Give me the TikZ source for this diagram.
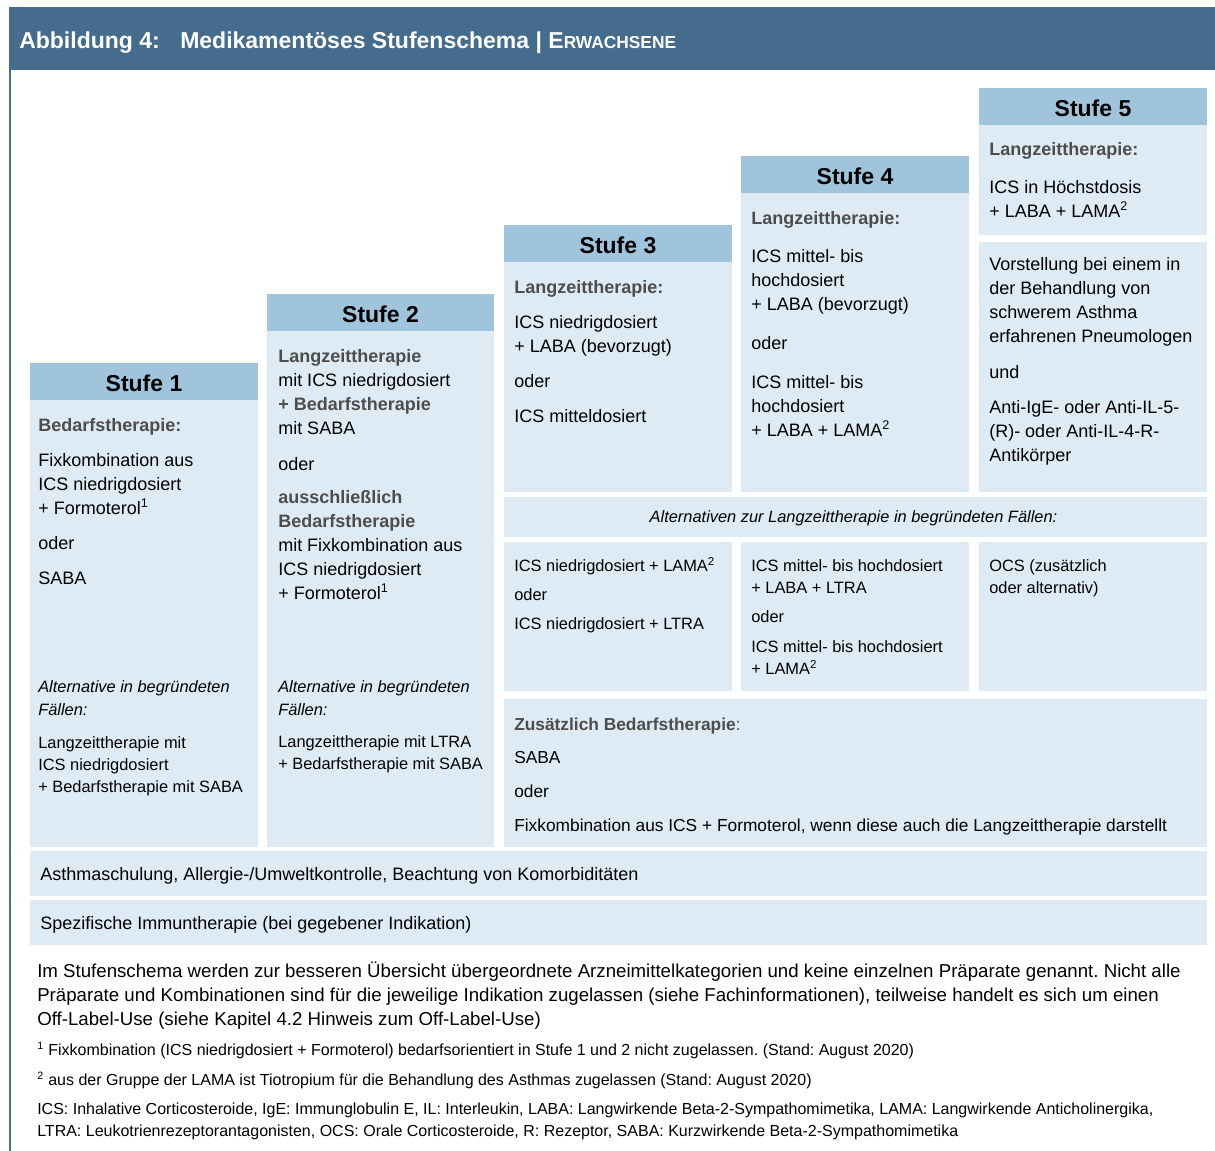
\documentclass[tikz,border=0pt]{standalone}
\usepackage{fontspec}
\setmainfont{Liberation Sans}
\frenchspacing
\definecolor{titelblau}{RGB}{69,108,140}
\definecolor{stufekopf}{RGB}{160,196,220}
\definecolor{stufefeld}{RGB}{222,235,244}
\definecolor{grautext}{RGB}{77,77,77}
\newcommand{\zeilen}[1]{\begin{tabular}[t]{@{}l@{}}#1\end{tabular}}
\begin{document}
\begin{tikzpicture}[x=0.75pt,y=-0.75pt,
  every node/.style={yshift=-1.2pt},
  txt/.style={anchor=base west,inner sep=0pt,font=\fontsize{13.5}{18}\selectfont},
  klein/.style={anchor=base west,inner sep=0pt,font=\fontsize{12.3}{16.5}\selectfont},
  kursiv/.style={klein,font=\fontsize{12.3}{17.25}\selectfont\itshape},
  fett/.style={txt,text=grautext,font=\fontsize{13.5}{18}\selectfont\bfseries},
  mittel/.style={anchor=base west,inner sep=0pt,font=\fontsize{13}{18}\selectfont},
  fuss/.style={anchor=base west,inner sep=0pt,font=\fontsize{12}{16.2}\selectfont},
  stufe/.style={anchor=base,inner sep=0pt,font=\fontsize{17.25}{20}\selectfont\bfseries}]
\useasboundingbox (0,0) rectangle (1215,1151);
\fill[titelblau] (9,7) rectangle (1215,70);
\draw[titelblau,line width=1.9pt] (10.2,70) -- (10.2,1151);
\node[anchor=base west,inner sep=0pt,text=white,font=\fontsize{17.25}{20}\selectfont\bfseries] (titel) at (19,47) {Abbildung 4:};
\node[anchor=base west,inner sep=0pt,text=white,font=\fontsize{17.25}{20}\selectfont\bfseries] (titeltext) at (180,47)
  {Medikamentöses Stufenschema | E{\fontsize{13}{14}\selectfont RWACHSENE}};
\fill[stufekopf] (30,363) rectangle (258,400);
\fill[stufekopf] (267,294) rectangle (494,331);
\fill[stufekopf] (504,225) rectangle (732,262);
\fill[stufekopf] (741,156) rectangle (969,193);
\fill[stufekopf] (979,88) rectangle (1207,125);
\fill[stufefeld] (30,400) rectangle (258,847);
\fill[stufefeld] (267,331) rectangle (494,847);
\fill[stufefeld] (504,262) rectangle (732,492);
\fill[stufefeld] (741,193) rectangle (969,492);
\fill[stufefeld] (979,125) rectangle (1207,235);
\fill[stufefeld] (979,242) rectangle (1207,492);
\fill[stufefeld] (504,497) rectangle (1207,537);
\fill[stufefeld] (504,542) rectangle (732,691);
\fill[stufefeld] (741,542) rectangle (969,691);
\fill[stufefeld] (979,542) rectangle (1207,691);
\fill[stufefeld] (504,699) rectangle (1207,847);
\fill[stufefeld] (30,851) rectangle (1207,896);
\fill[stufefeld] (30,900) rectangle (1207,945);
\node[stufe] (st1) at (144,390) {Stufe 1};
\node[stufe] (st2) at (380.5,321) {Stufe 2};
\node[stufe] (st3) at (618,252) {Stufe 3};
\node[stufe] (st4) at (855,183) {Stufe 4};
\node[stufe] (st5) at (1093,115) {Stufe 5};
\node[fett] (s1bed) at (38,430) {Bedarfstherapie:};
\node[txt] (s1fix) at (38,465) {\zeilen{Fixkombination aus\\ICS niedrigdosiert\\+ Formoterol\textsuperscript{1}}};
\node[txt] (s1oder) at (38,548) {oder};
\node[txt] (s1saba) at (38,583) {SABA};
\node[kursiv] (s1alt) at (38,691) {\zeilen{Alternative in begründeten\\Fällen:}};
\node[klein] (s1lang) at (38,747) {\zeilen{Langzeittherapie mit\\ICS niedrigdosiert\\+ Bedarfstherapie mit SABA}};
\node[txt] (s2lang) at (278,361) {\zeilen{\textcolor{grautext}{\bfseries Langzeittherapie}\\mit ICS niedrigdosiert\\\textcolor{grautext}{\bfseries + Bedarfstherapie}\\mit SABA}};
\node[txt] (s2oder) at (278,469) {oder};
\node[txt] (s2auss) at (278,502) {\zeilen{\textcolor{grautext}{\bfseries ausschließlich}\\\textcolor{grautext}{\bfseries Bedarfstherapie}\\mit Fixkombination aus\\ICS niedrigdosiert\\+ Formoterol\textsuperscript{1}}};
\node[kursiv] (s2alt) at (278,691) {\zeilen{Alternative in begründeten\\Fällen:}};
\node[klein] (s2ltra) at (278,746) {\zeilen{Langzeittherapie mit LTRA\\+ Bedarfstherapie mit SABA}};
\node[fett] (s3lang) at (514,292) {Langzeittherapie:};
\node[txt] (s3ics) at (514,327) {\zeilen{ICS niedrigdosiert\\+ LABA (bevorzugt)}};
\node[txt] (s3oder) at (514,386) {oder};
\node[txt] (s3mittel) at (514,421) {ICS mitteldosiert};
\node[fett] (s4lang) at (751,223) {Langzeittherapie:};
\node[txt] (s4ics) at (751,261) {\zeilen{ICS mittel- bis\\hochdosiert\\+ LABA (bevorzugt)}};
\node[txt] (s4oder) at (751,348) {oder};
\node[txt] (s4ics2) at (751,387) {\zeilen{ICS mittel- bis\\hochdosiert\\+ LABA + LAMA\textsuperscript{2}}};
\node[fett] (s5lang) at (989,154) {Langzeittherapie:};
\node[txt] (s5ics) at (989,192) {\zeilen{ICS in Höchstdosis\\+ LABA + LAMA\textsuperscript{2}}};
\node[txt] (s5vor) at (989,269) {\zeilen{Vorstellung bei einem in\\der Behandlung von\\schwerem Asthma\\erfahrenen Pneumologen}};
\node[txt] (s5und) at (989,377) {und};
\node[txt] (s5anti) at (989,412) {\zeilen{Anti-IgE- oder Anti-IL-5-\\(R)- oder Anti-IL-4-R-\\Antikörper}};
\node[kursiv,anchor=base] (altkopf) at (853.5,521) {Alternativen zur Langzeittherapie in begründeten Fällen:};
\node[klein] (altA1) at (514,570) {ICS niedrigdosiert + LAMA\textsuperscript{2}};
\node[klein] (altA2) at (514,599) {oder};
\node[klein] (altA3) at (514,628) {ICS niedrigdosiert + LTRA};
\node[klein] (altB1) at (751,570) {\zeilen{ICS mittel- bis hochdosiert\\+ LABA + LTRA}};
\node[klein] (altB2) at (751,621) {oder};
\node[klein] (altB3) at (751,651) {\zeilen{ICS mittel- bis hochdosiert\\+ LAMA\textsuperscript{2}}};
\node[klein] (altC) at (989,570) {\zeilen{OCS (zusätzlich\\oder alternativ)}};
\node[mittel] (zuskopf) at (514,729) {\textcolor{grautext}{\bfseries Zusätzlich Bedarfstherapie}\textcolor{grautext}{:}};
\node[mittel] (zussaba) at (514,762) {SABA};
\node[mittel] (zusoder) at (514,796) {oder};
\node[mittel] (zusfix) at (514,830) {Fixkombination aus ICS + Formoterol, wenn diese auch die Langzeittherapie darstellt};
\node[txt] (asthma) at (40,879) {Asthmaschulung, Allergie-/Umweltkontrolle, Beachtung von Komorbiditäten};
\node[txt] (spez) at (40,928) {Spezifische Immuntherapie (bei gegebener Indikation)};
\node[anchor=base west,inner sep=0pt,font=\fontsize{14}{18}\selectfont] (hinweis) at (37,976)
  {\zeilen{Im Stufenschema werden zur besseren Übersicht übergeordnete Arzneimittelkategorien und keine einzelnen Präparate genannt. Nicht alle\\
   Präparate und Kombinationen sind für die jeweilige Indikation zugelassen (siehe Fachinformationen), teilweise handelt es sich um einen\\
   Off-Label-Use (siehe Kapitel 4.2 Hinweis zum Off-Label-Use)}};
\node[fuss] (fn1) at (37,1054) {\textsuperscript{1} Fixkombination (ICS niedrigdosiert + Formoterol) bedarfsorientiert in Stufe 1 und 2 nicht zugelassen. (Stand: August 2020)};
\node[fuss] (fn2) at (37,1084) {\textsuperscript{2} aus der Gruppe der LAMA ist Tiotropium für die Behandlung des Asthmas zugelassen (Stand: August 2020)};
\node[fuss] (abk) at (37,1113) {\zeilen{ICS: Inhalative Corticosteroide, IgE: Immunglobulin E, IL: Interleukin, LABA: Langwirkende Beta-2-Sympathomimetika, LAMA: Langwirkende Anticholinergika,\\
  LTRA: Leukotrienrezeptorantagonisten, OCS: Orale Corticosteroide, R: Rezeptor, SABA: Kurzwirkende Beta-2-Sympathomimetika}};
\end{tikzpicture}
\end{document}
